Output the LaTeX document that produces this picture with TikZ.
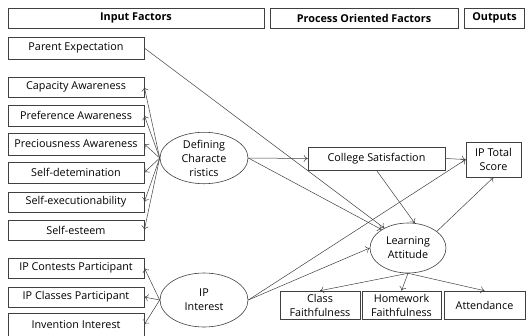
\documentclass[tikz,border=0pt]{standalone}
\usepackage{fontspec}
\setmainfont{Open Sans}
\usetikzlibrary{shapes.geometric}
\usetikzlibrary{arrows.meta}

\begin{document}
\begin{tikzpicture}[x=1pt,y=-1pt,
    box/.style={draw=black!75,line width=0.6pt,inner sep=0pt,align=center,font=\fontsize{10.8}{14}\selectfont},
    hdr/.style={box,minimum height=20,font=\fontsize{10.8}{14}\selectfont\bfseries},
    lbox/.style={box,minimum width=136,minimum height=21},
    lat/.style={box,ellipse},
    arr/.style={-{To[length=4pt,width=7pt]},draw=black!75,line width=0.5pt}]
    \useasboundingbox (0,0) rectangle (526,335);
    \node[hdr,minimum width=256] (hIn) at (136,18) {Input Factors};
    \node[hdr,minimum width=188] (hProc) at (364,18) {Process Oriented Factors};
    \node[hdr,minimum width=60] (hOut) at (494.5,18) {Outputs};
    \node[lbox,minimum height=22] (parent) at (76,48) {Parent Expectation};
    \node[lbox,minimum height=20] (cap) at (76,87) {Capacity Awareness};
    \node[lbox] (pref) at (76,115.5) {Preference Awareness};
    \node[lbox,minimum height=22] (prec) at (76,144) {Preciousness Awareness};
    \node[lbox] (sdet) at (76,172.5) {Self-detemination};
    \node[lbox,minimum height=20] (sexe) at (76,202) {Self-executionability};
    \node[lbox,minimum height=20] (sest) at (76,230) {Self-esteem};
    \node[lbox,minimum height=20] (ipcon) at (76,268) {IP Contests Participant};
    \node[lbox,minimum height=20] (ipcls) at (76,297) {IP Classes Participant};
    \node[lbox,minimum height=23] (inv) at (76,324.5) {Invention Interest};
    \node[lat,minimum width=88,minimum height=47] (defc) at (204,158) {Defining\\Characte\\ristics};
    \node[lat,minimum width=88,minimum height=54] (ipint) at (204,300) {IP\\Interest};
    \node[box,minimum width=137,minimum height=23] (colsat) at (376.5,158.5) {College Satisfaction};
    \node[box,minimum width=55,minimum height=35] (iptot) at (493.5,159.5) {IP Total\\Score};
    \node[lat,minimum width=76,minimum height=50] (learn) at (408,248) {Learning\\Attitude};
    \node[box,minimum width=80,minimum height=28] (classf) at (320,305) {Class\\Faithfulness};
    \node[box,minimum width=79,minimum height=28] (homef) at (401.5,305) {Homework\\Faithfulness};
    \node[box,minimum width=81,minimum height=28] (attend) at (484.5,305) {Attendance};
    \draw[arr] (defc.west) to (cap.east);
    \draw[arr] (defc.west) to (pref.east);
    \draw[arr] (defc.west) to (prec.east);
    \draw[arr] (defc.west) to (sdet.east);
    \draw[arr] (defc.west) to (sexe.east);
    \draw[arr] (defc.west) to (sest.east);
    \draw[arr] (ipint.west) to (ipcon.east);
    \draw[arr] (ipint.west) to (ipcls.east);
    \draw[arr] (ipint.west) to (inv.east);
    \draw[arr] (parent.east) to (learn.140);
    \draw[arr] (defc.east) to (colsat.west);
    \draw[arr] (defc.east) to (learn.145);
    \draw[arr] (colsat.east) to (iptot.west);
    \draw[arr] (colsat.south) to (learn.75);
    \draw[arr] (learn.30) to (iptot.south);
    \draw[arr] (ipint.east) to (iptot.west);
    \draw[arr] (ipint.east) to (learn.west);
    \draw[arr] (learn.south) to (classf.north);
    \draw[arr] (learn.south) to (homef.north);
    \draw[arr] (learn.south) to (attend.north);
  \end{tikzpicture}
\end{document}
